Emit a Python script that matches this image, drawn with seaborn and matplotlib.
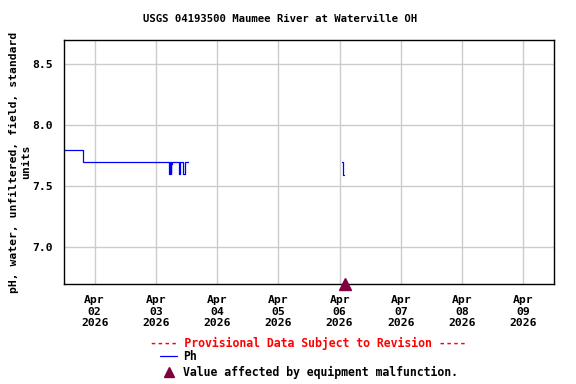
import pandas as pd
import matplotlib
matplotlib.use("Agg")
import matplotlib.pyplot as plt
import matplotlib.dates as mdates
from matplotlib.lines import Line2D
import seaborn as sns

# pH readings (15-min gage data), drawn as steps
seg1_times = ["2026-04-01 12:00", "2026-04-01 19:15", "2026-04-01 19:30",
              "2026-04-03 05:15", "2026-04-03 05:30", "2026-04-03 05:45",
              "2026-04-03 06:00", "2026-04-03 06:15", "2026-04-03 09:15",
              "2026-04-03 09:30", "2026-04-03 10:30", "2026-04-03 11:30",
              "2026-04-03 12:45"]
seg1_ph = [7.80, 7.76, 7.70, 7.60, 7.70, 7.60, 7.68, 7.70, 7.60, 7.70, 7.60, 7.70, 7.70]
seg2_times = ["2026-04-06 01:00", "2026-04-06 01:15", "2026-04-06 01:30", "2026-04-06 01:45"]
seg2_ph = [7.70, 7.66, 7.59, 7.59]

# equipment malfunction flag
flag_times = ["2026-04-06 02:15"]

title = "USGS 04193500 Maumee River at Waterville OH"
ylabel = "pH, water, unfiltered, field, standard\nunits"
x_start, x_end = "2026-04-01 12:00", "2026-04-09 12:00"
y_min, y_max = 6.7, 8.7
y_ticks = [7.0, 7.5, 8.0, 8.5]

df = pd.concat([
    pd.DataFrame({"time": pd.to_datetime(seg1_times), "ph": seg1_ph, "seg": 1}),
    pd.DataFrame({"time": pd.to_datetime(seg2_times), "ph": seg2_ph, "seg": 2}),
])

sns.set_style("white")
plt.rcParams["font.family"] = ["DejaVu Sans Mono"]
plt.rcParams["font.weight"] = "bold"
for key in ["text.color", "axes.labelcolor", "xtick.color", "ytick.color"]:
    plt.rcParams[key] = "black"

fig = plt.figure(figsize=(5.76, 3.84), dpi=100)
ax = fig.add_axes([64 / 576, 100 / 384, 490 / 576, 244 / 384])

sns.lineplot(data=df, x="time", y="ph", units="seg", estimator=None, sort=False,
             drawstyle="steps-post", color="#0000ff", linewidth=0.9, ax=ax)

flag_x = pd.to_datetime(flag_times)
ax.plot(flag_x, [y_min] * len(flag_x), linestyle="none", marker="^",
        markersize=8.5, color="#800040", clip_on=False, zorder=5)

ax.set_xlim(pd.Timestamp(x_start), pd.Timestamp(x_end))
ax.set_ylim(y_min, y_max)
ax.set_yticks(y_ticks)
ax.yaxis.set_major_formatter(matplotlib.ticker.FormatStrFormatter("%.1f"))
ax.xaxis.set_major_locator(mdates.DayLocator())
ax.xaxis.set_major_formatter(mdates.DateFormatter("%b\n%d\n%Y"))
ax.tick_params(length=0, labelsize=8.2, pad=8)
for lab in ax.get_xticklabels() + ax.get_yticklabels():
    lab.set_fontweight("bold")
ax.grid(True, color="#cccccc", linewidth=1)
for s in ax.spines.values():
    s.set_color("black")
    s.set_linewidth(1)

ax.set_xlabel("")
ax.set_ylabel(ylabel, fontsize=8.2, fontweight="bold", labelpad=1, linespacing=1.2)
fig.text(280 / 576, 1 - 19 / 384, title, ha="center", va="center",
         fontsize=7.7, fontweight="bold")

# legend below the plot
fig.text(308 / 576, 1 - 343 / 384, "---- Provisional Data Subject to Revision ----",
         ha="center", va="center", fontsize=8.3, fontweight="bold", color="#ff0000")
fig.add_artist(Line2D([160 / 576, 177 / 576], [1 - 356 / 384] * 2,
                      color="#0000ff", linewidth=0.9, transform=fig.transFigure))
fig.text(183 / 576, 1 - 356 / 384, "Ph", ha="left", va="center",
         fontsize=8.3, fontweight="bold")
fig.add_artist(Line2D([169 / 576], [1 - 371.5 / 384], marker="^", markersize=7,
                      color="#800040", linestyle="none", transform=fig.transFigure))
fig.text(183 / 576, 1 - 372 / 384, "Value affected by equipment malfunction.",
         ha="left", va="center", fontsize=8.3, fontweight="bold")

fig.savefig("out.png", dpi=100)
